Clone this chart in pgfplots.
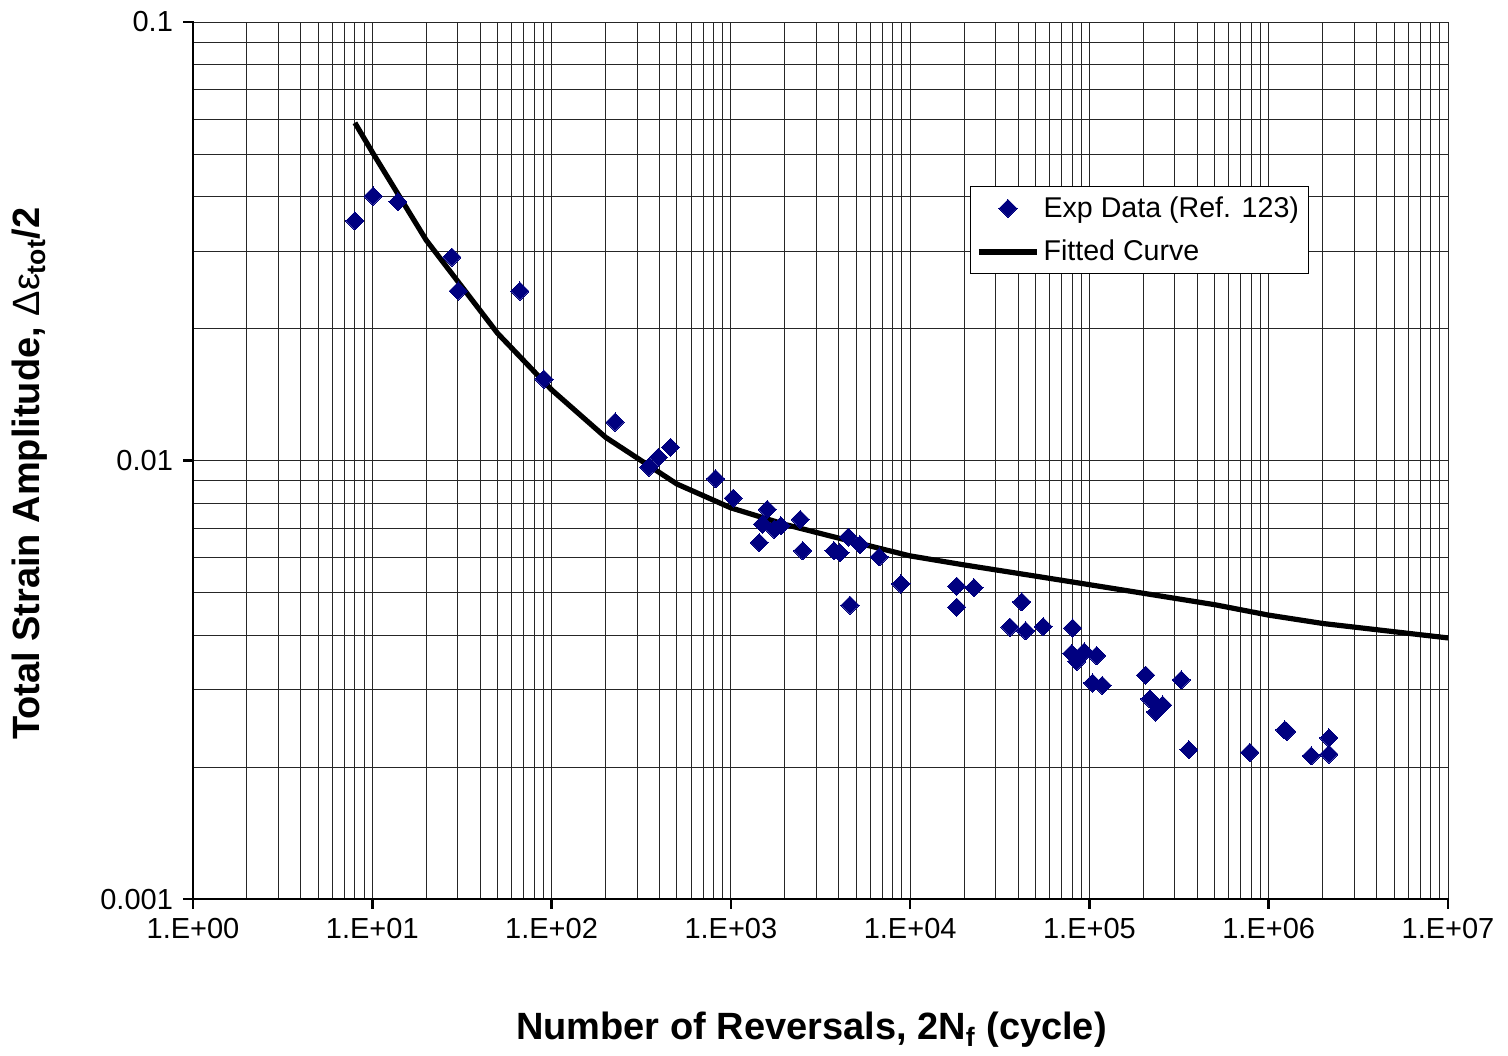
\documentclass[border=0pt]{standalone}
\usepackage{fontspec}
\setmainfont{Liberation Sans}
\usepackage{pgfplots}
\pgfplotsset{compat=1.18}
\definecolor{expblue}{RGB}{0,0,128}
\pgfplotsset{
  diamondlegend/.style={legend image code/.code={%
    \draw[mark repeat=2,mark phase=2,##1] plot coordinates {(0pt,0pt) (14.5pt,0pt) (29pt,0pt)};}},
  linelegend/.style={legend image code/.code={%
    \draw[##1] (0pt,0pt) -- (29pt,0pt);}},
}

\begin{document}
\begin{tikzpicture}
\path[use as bounding box] (0pt,0pt) rectangle (754pt,527.5pt);
\begin{axis}[
  at={(96.5pt,78pt)}, anchor=south west,
  scale only axis, width=627.5pt, height=438.5pt,
  xmode=log, ymode=log,
  xmin=1, xmax=1e7, ymin=0.001, ymax=0.1,
  clip=false,
  axis line style={draw=none},
  xtick pos=bottom, ytick pos=left,
  xtick={1,10,100,1000,10000,100000,1000000,10000000},
  xticklabels={1.E+00,1.E+01,1.E+02,1.E+03,1.E+04,1.E+05,1.E+06,1.E+07},
  ytick={0.001,0.01,0.1},
  yticklabels={0.001,0.01,0.1},
  major tick length=0pt, minor tick length=0pt,
  grid=both,
  major grid style={line width=0.5pt, black!85},
  minor grid style={line width=0.5pt, black!85},
  ticklabel style={font=\fontsize{14.5}{17}\selectfont},
  xticklabel style={yshift=-6pt},
  yticklabel style={xshift=-6.5pt},
  xlabel={Number of Reversals, 2N\textsubscript{f} (cycle)},
  ylabel={Total Strain Amplitude, {\mdseries Δε}\textsubscript{tot}/2},
  label style={font=\fontsize{19}{22}\selectfont\bfseries},
  xlabel style={at={(axis description cs:0.4928,-0.149)}, anchor=center},
  ylabel style={at={(axis description cs:-0.130,0.485)}, anchor=center, rotate=0},
  legend style={at={(0.619,0.813)}, anchor=north west, draw=black, line width=0.5pt,
    font=\fontsize{14.3}{17}\selectfont, row sep=6pt, inner sep=3pt,
    legend cell align=left},
]
% experimental reversals vs. strain amplitude
\addplot[only marks, mark=square*, mark size=3.2pt, color=expblue,
  mark options={rotate=45, line width=0pt}, diamondlegend]
  coordinates {
  (8.0,0.0352) (10.1,0.0401) (13.9,0.0389) (27.8,0.0291) (30.1,0.02435)
  (66.6,0.02435) (90.7,0.01534) (226,0.01224) (349,0.00966) (394,0.01017)
  (461,0.01072) (822,0.00909) (1031,0.00821) (1596,0.00774) (1504,0.00716)
  (1746,0.00697) (1903,0.00710) (1440,0.00650) (2438,0.00734) (2515,0.00623)
  (3758,0.00623) (4060,0.00616) (4517,0.00669) (5248,0.00643) (6724,0.00603)
  (8887,0.00523) (4617,0.00468) (18170,0.00517) (22690,0.00513) (18170,0.00463)
  (41880,0.00476) (36020,0.00417) (44060,0.00409) (55240,0.00418) (80590,0.00415)
  (79570,0.00363) (84840,0.00348) (93540,0.00366) (109700,0.00359) (104200,0.00311)
  (117900,0.00307) (205800,0.00324) (217500,0.00286) (233900,0.00267) (256100,0.00277)
  (325100,0.00316) (358900,0.00219) (785300,0.00216) (1230000,0.00243) (1260000,0.00241)
  (1726000,0.00212) (2167000,0.00233) (2167000,0.00214)
  };
\addlegendentry{Exp Data (Ref. 123)}
% fitted strain-life curve
\addplot[black, line width=2.6pt, no marks, linelegend]
  coordinates {
  (8,0.0589) (10,0.0505) (20,0.0318) (50,0.0195) (100,0.0145) (200,0.0113)
  (500,0.00884) (1000,0.00780) (2000,0.00715) (5000,0.00650) (10000,0.00606)
  (20000,0.00578) (50000,0.00545) (100000,0.00521) (200000,0.00498)
  (500000,0.00469) (1000000,0.00444) (2000000,0.00425) (5000000,0.00407)
  (10000000,0.00394)
  };
\addlegendentry{Fitted Curve}
% heavy left and bottom axis lines with outward decade ticks
\draw[line width=1.25pt, black, line cap=rect] (rel axis cs:0,1) -- (rel axis cs:0,0) -- (rel axis cs:1,0);
\pgfplotsinvokeforeach{0,...,7}{\draw[line width=1.25pt, black] (axis cs:1e#1,0.001) -- ++(0pt,-5pt);}
\pgfplotsinvokeforeach{-3,-2,-1}{\draw[line width=1.25pt, black] (axis cs:1,1e#1) -- ++(-5pt,0pt);}
\end{axis}
\end{tikzpicture}
\end{document}
